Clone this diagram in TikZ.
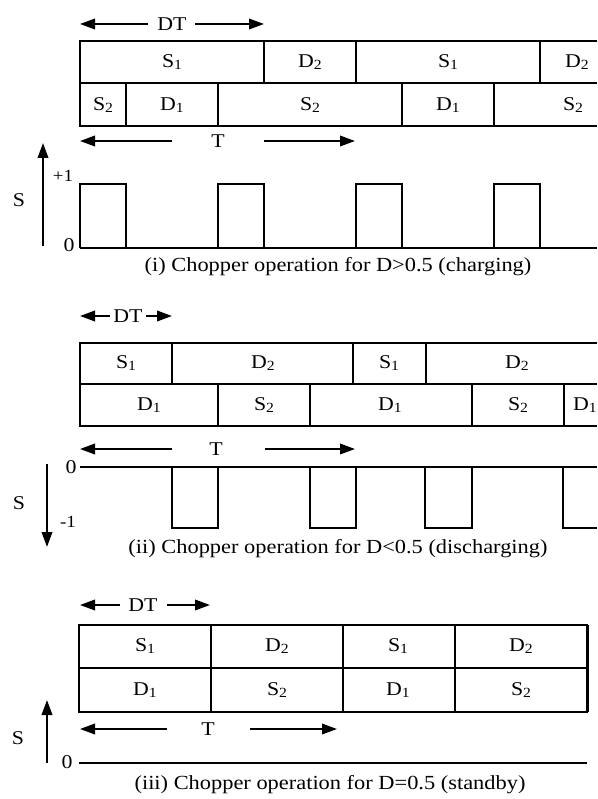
\documentclass[tikz,border=0pt]{standalone}
\usepackage{fontspec}
\setmainfont{Liberation Serif}[FakeStretch=1.12]
\usetikzlibrary{arrows.meta}
% small lowered index for switch/diode names
\newcommand\idx[1]{\raisebox{-2.2pt}{\fontsize{14}{14}\selectfont #1}}

\begin{document}
\begin{tikzpicture}[x=1pt,y=-1pt,line width=2pt,line join=miter,
  lbl/.style={inner sep=0pt,font=\fontsize{19.5}{19.5}\selectfont},
  lvl/.style={inner sep=0pt,font=\fontsize{17}{17}\selectfont},
  captext/.style={inner sep=0pt,font=\fontsize{20}{20}\selectfont},
  arr/.style={-{Triangle[length=15pt,width=10.5pt]}}]
\useasboundingbox (0,0) rectangle (597,799);

% ===================== (i) D > 0.5 =====================
\node[lbl] (dt1) at (172,24) {DT};
\draw[arr] (148,24) -- (80,24);
\draw[arr] (195,24) -- (264,24);

\draw (597,41) -- (80,41) -- (80,126) -- (597,126);
\draw (80,83) -- (597,83);
\foreach \x in {264,356,540} \draw (\x,41) -- (\x,83);
\foreach \x in {126,218,402,494} \draw (\x,83) -- (\x,126);

\node[lbl] (a1) at (172,62) {S\idx{1}};
\node[lbl] (a2) at (310,62) {D\idx{2}};
\node[lbl] (a3) at (448,62) {S\idx{1}};
\node[lbl] (a4) at (577,62) {D\idx{2}};
\node[lbl] (b1) at (103,105) {S\idx{2}};
\node[lbl] (b2) at (172,105) {D\idx{1}};
\node[lbl] (b3) at (310,105) {S\idx{2}};
\node[lbl] (b4) at (448,105) {D\idx{1}};
\node[lbl] (b5) at (573,105) {S\idx{2}};

\node[lbl] (t1) at (218,141) {T};
\draw[arr] (172,141) -- (80,141);
\draw[arr] (264,141) -- (355,141);

\draw[arr] (43,246) -- (43,143);
\node[lbl] (s1) at (19,200) {S};
\node[lvl] (p1) at (63,176) {+1};
\node[lbl] (z1) at (69,245) {0};
% switching function: baseline plus pulses of height +1
\draw (80,248) -- (597,248);
\draw (80,248) -- (80,184) -- (126,184) -- (126,248)
      (218,248) -- (218,184) -- (264,184) -- (264,248)
      (356,248) -- (356,184) -- (402,184) -- (402,248)
      (494,248) -- (494,184) -- (540,184) -- (540,248);
\node[captext] (c1) at (338,267) {(i) Chopper operation for D>0.5 (charging)};

% ===================== (ii) D < 0.5 =====================
\node[lbl] (dt2) at (128,316) {DT};
\draw[arr] (110,316) -- (80,316);
\draw[arr] (146,316) -- (172,316);

\draw (597,343) -- (80,343) -- (80,426) -- (597,426);
\draw (80,384) -- (597,384);
\foreach \x in {172,353,426} \draw (\x,343) -- (\x,384);
\foreach \x in {218,310,472,564} \draw (\x,384) -- (\x,426);

\node[lbl] (e1) at (126,363) {S\idx{1}};
\node[lbl] (e2) at (263,363) {D\idx{2}};
\node[lbl] (e3) at (389,363) {S\idx{1}};
\node[lbl] (e4) at (517,363) {D\idx{2}};
\node[lbl] (f1) at (149,405) {D\idx{1}};
\node[lbl] (f2) at (264,405) {S\idx{2}};
\node[lbl] (f3) at (390,405) {D\idx{1}};
\node[lbl] (f4) at (518,405) {S\idx{2}};
\node[lbl] (f5) at (585,405) {D\idx{1}};

\node[lbl] (t2) at (216,449) {T};
\draw[arr] (172,449) -- (80,449);
\draw[arr] (265,449) -- (355,449);

\draw[arr] (47,464) -- (47,547);
\node[lbl] (s2) at (19,503) {S};
\node[lbl] (z2) at (71,467) {0};
\node[lvl] (m2) at (68,522) {-1};
% switching function: zero line plus pulses of depth -1
\draw (80,467) -- (597,467);
\draw (172,467) -- (172,528) -- (218,528) -- (218,467)
      (310,467) -- (310,528) -- (356,528) -- (356,467)
      (425,467) -- (425,528) -- (472,528) -- (472,467)
      (563,467) -- (563,528) -- (597,528);
\node[captext] (c2) at (338,549) {(ii) Chopper operation for D<0.5 (discharging)};

% ===================== (iii) D = 0.5 =====================
\node[lbl] (dt3) at (143,605) {DT};
\draw[arr] (120,605) -- (80,605);
\draw[arr] (167,605) -- (210,605);

\draw (79,625) rectangle (587,712);
\draw (79,668) -- (587,668);
\draw[line width=2.8pt] (588,625) -- (588,712);
\foreach \x in {211,343,455} \draw (\x,625) -- (\x,712);

\node[lbl] (g1) at (145,646) {S\idx{1}};
\node[lbl] (g2) at (277,646) {D\idx{2}};
\node[lbl] (g3) at (398,646) {S\idx{1}};
\node[lbl] (g4) at (521,646) {D\idx{2}};
\node[lbl] (h1) at (145,690) {D\idx{1}};
\node[lbl] (h2) at (277,690) {S\idx{2}};
\node[lbl] (h3) at (398,690) {D\idx{1}};
\node[lbl] (h4) at (521,690) {S\idx{2}};

\node[lbl] (t3) at (208,729) {T};
\draw[arr] (167,729) -- (80,729);
\draw[arr] (250,729) -- (337,729);

\draw[arr] (47,763) -- (47,700);
\node[lbl] (s3) at (18,738) {S};
\node[lbl] (z3) at (67,762) {0};
\draw (79,763) -- (587,763);
\node[captext] (c3) at (330,785) {(iii) Chopper operation for D=0.5 (standby)};
\end{tikzpicture}
\end{document}
